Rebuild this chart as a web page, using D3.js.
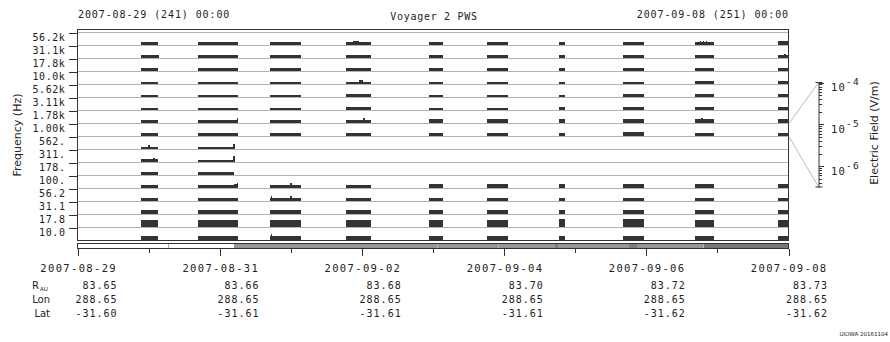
<!DOCTYPE html>
<html><head><meta charset="utf-8">
<script src="https://cdn.jsdelivr.net/npm/d3@7"></script>
<style>
html,body{margin:0;padding:0;background:#fff;}
svg{display:block;}
text{fill:#222;}
.mono{font-family:"DejaVu Sans Mono",monospace;}
.sans{font-family:"DejaVu Sans",sans-serif;}
</style></head><body>
<svg id="chart" width="890" height="342"></svg>
<script>
// ---------- DATA ----------
const channels = ["56.2k","31.1k","17.8k","10.0k","5.62k","3.11k","1.78k","1.00k","562.","311.","178.","100.","56.2","31.1","17.8","10.0"];

const blockStarts = ["2007-08-29T21:20","2007-08-30T16:30","2007-08-31T04:35","2007-08-31T16:50","2007-09-01T18:30","2007-09-02T22:30","2007-09-03T18:05","2007-09-04T18:25","2007-09-05T16:00","2007-09-06T16:20","2007-09-07T20:20"];
const blockEnds   = ["2007-08-30T03:00","2007-08-31T04:35","2007-08-31T06:00","2007-09-01T03:20","2007-09-02T02:55","2007-09-03T03:10","2007-09-04T01:05","2007-09-04T20:25","2007-09-05T23:05","2007-09-06T22:40","2007-09-08T00:00"];

// electric field (V/m) per block, per channel (top channel first); null = no data
const fieldB1  = [1.36e-6,1.36e-6,1.63e-6,1.04e-6,1.04e-6,1.19e-6,1.36e-6,1.63e-6,1.10e-6,1.70e-6,1.40e-6,1.36e-6,1.63e-6,2.10e-6,9.6e-6,1.86e-6];
const fieldB2a = [1.36e-6,1.36e-6,1.63e-6,1.04e-6,1.04e-6,1.19e-6,1.36e-6,1.63e-6,1.04e-6,1.19e-6,1.60e-6,1.36e-6,1.63e-6,2.10e-6,9.6e-6,1.86e-6];
const fieldB2b = [1.36e-6,1.36e-6,1.63e-6,1.04e-6,1.04e-6,1.19e-6,1.60e-6,1.63e-6,null,null,null,1.90e-6,1.63e-6,2.10e-6,9.6e-6,1.86e-6];
const fieldB3  = [1.36e-6,1.36e-6,1.63e-6,1.04e-6,1.04e-6,1.19e-6,1.70e-6,1.63e-6,null,null,null,1.70e-6,1.63e-6,2.10e-6,9.6e-6,1.90e-6];
const fieldB4  = [1.50e-6,1.36e-6,1.63e-6,1.10e-6,1.20e-6,1.36e-6,1.80e-6,1.63e-6,null,null,null,1.80e-6,1.63e-6,2.10e-6,9.6e-6,1.86e-6];
const fieldB5  = [1.36e-6,1.36e-6,1.63e-6,1.04e-6,1.04e-6,1.19e-6,1.90e-6,1.63e-6,null,null,null,2.00e-6,1.63e-6,2.10e-6,9.6e-6,1.86e-6];
const fieldB6  = [1.36e-6,1.36e-6,1.63e-6,1.04e-6,1.04e-6,1.19e-6,2.20e-6,1.63e-6,null,null,null,2.00e-6,1.63e-6,2.30e-6,9.6e-6,1.86e-6];
const fieldB7  = [1.36e-6,1.36e-6,1.63e-6,1.04e-6,1.04e-6,1.36e-6,2.40e-6,1.63e-6,null,null,null,2.00e-6,1.63e-6,2.60e-6,1.3e-5,1.86e-6];
const fieldB8  = [1.36e-6,1.36e-6,1.63e-6,1.04e-6,1.36e-6,1.36e-6,2.20e-6,1.90e-6,null,null,null,2.20e-6,1.63e-6,2.30e-6,1.2e-5,1.86e-6];
const fieldB9  = [1.60e-6,1.50e-6,1.70e-6,1.30e-6,1.30e-6,1.40e-6,2.40e-6,1.63e-6,null,null,null,2.00e-6,1.63e-6,2.30e-6,9.6e-6,1.86e-6];
const fieldB10 = [1.90e-6,1.70e-6,1.63e-6,1.30e-6,1.20e-6,1.36e-6,2.00e-6,1.63e-6,null,null,null,2.00e-6,1.63e-6,2.30e-6,9.6e-6,1.86e-6];
const blockFields = [fieldB1,fieldB2a,fieldB2b,fieldB3,fieldB4,fieldB5,fieldB6,fieldB7,fieldB8,fieldB9,fieldB10];

// isolated samples sticking out above the bars
const spikeTimes    = ["2007-08-29T23:40","2007-08-30T01:30","2007-08-30T02:50","2007-08-31T04:30","2007-08-31T04:30","2007-08-31T05:40","2007-08-31T05:40","2007-08-31T17:10","2007-08-31T23:40","2007-08-31T23:40","2007-08-31T17:10","2007-09-01T21:00","2007-09-01T21:40","2007-09-01T22:20","2007-09-01T23:00","2007-09-01T23:40","2007-09-02T00:20","2007-09-06T18:00","2007-09-06T19:00","2007-09-06T20:00","2007-09-06T18:30","2007-09-07T21:00","2007-09-07T22:30"];
const spikeChannels = [8,9,1,8,9,6,11,12,11,12,15,0,0,0,3,3,6,0,0,0,6,0,1];
const spikeValues   = [2.6e-6,2.6e-6,1.8e-6,3.6e-6,5.0e-6,3.4e-6,3.0e-6,4.0e-6,4.0e-6,4.0e-6,5.0e-6,2.2e-6,2.4e-6,2.2e-6,2.0e-6,2.0e-6,3.0e-6,2.4e-6,2.6e-6,2.4e-6,3.4e-6,2.6e-6,2.6e-6];

// coverage strip below the plot
const stripStarts = ["2007-08-29T00:00","2007-08-30T06:30","2007-08-31T04:35","2007-09-03T01:10","2007-09-03T21:50","2007-09-04T17:15","2007-09-04T18:15","2007-09-05T18:15","2007-09-05T20:40","2007-09-06T19:10"];
const stripEnds   = ["2007-08-30T06:30","2007-08-31T04:35","2007-09-03T01:10","2007-09-03T21:50","2007-09-04T17:15","2007-09-04T18:15","2007-09-05T18:15","2007-09-05T20:40","2007-09-06T19:10","2007-09-08T00:00"];
const stripKinds  = [0,0,1,1,1,2,1,2,1,3];

// ephemeris table
const ephemDates = ["2007-08-29","2007-08-31","2007-09-02","2007-09-04","2007-09-06","2007-09-08"];
const ephemR     = ["83.65","83.66","83.68","83.70","83.72","83.73"];
const ephemLon   = ["288.65","288.65","288.65","288.65","288.65","288.65"];
const ephemLat   = ["-31.60","-31.61","-31.61","-31.61","-31.62","-31.62"];

const fieldDecades = [1e-4,1e-5,1e-6];
const fieldExponents = ["-4","-5","-6"];

// ---------- DRAW ----------
const svg = d3.select("#chart");
const T = s => new Date(s + (s.length > 10 ? ":00Z" : "T00:00:00Z"));

const x = d3.scaleUtc().domain([T("2007-08-29"), T("2007-09-08")]).range([78, 788.5]);
const y = d3.scalePoint().domain(channels).range([32.5, 227.5]);
const step = y.step();
const inBand = d3.scaleLog().domain([Math.pow(10,-6.5), 1e-4]).range([step, 0]);

// grid lines
const gridYs = channels.map(c => y(c)).concat([y(channels[channels.length-1]) + step]);
svg.append("g").selectAll("line").data(gridYs).join("line")
  .attr("x1", 77.5).attr("x2", 788.5).attr("y1", d => d).attr("y2", d => d)
  .attr("stroke", "#b4b4b4").attr("shape-rendering","crispEdges");

// bars
const bars = [];
blockFields.forEach((arr, b) => arr.forEach((v, c) => {
  if (v != null) bars.push({s: T(blockStarts[b]), e: T(blockEnds[b]), c: channels[c], v});
}));
svg.append("g").selectAll("rect").data(bars).join("rect")
  .attr("x", d => x(d.s)).attr("width", d => Math.max(1, x(d.e) - x(d.s)))
  .attr("y", d => y(d.c) + inBand(d.v))
  .attr("height", d => step - 0.5 - inBand(d.v))
  .attr("fill", "#333").attr("shape-rendering","crispEdges");

const spikes = spikeTimes.map((t, i) => ({t: T(t), c: channels[spikeChannels[i]], v: spikeValues[i]}));
svg.append("g").selectAll("rect").data(spikes).join("rect")
  .attr("x", d => x(d.t)).attr("width", 1.5)
  .attr("y", d => y(d.c) + inBand(d.v))
  .attr("height", d => step - 0.5 - inBand(d.v))
  .attr("fill", "#333").attr("shape-rendering","crispEdges");

// frame
svg.append("rect").attr("x", 77.5).attr("y", 29.5).attr("width", 711).attr("height", 211)
  .attr("fill","none").attr("stroke","#333").attr("shape-rendering","crispEdges");

// left axis
const yAxis = d3.axisLeft(y).tickSize(9).tickPadding(3).tickSizeOuter(0);
const gy = svg.append("g").attr("transform","translate(77.5,0)").call(yAxis);
gy.select(".domain").remove();
gy.selectAll(".tick line").attr("stroke","#333").attr("shape-rendering","crispEdges");
gy.selectAll(".tick text").attr("class","mono").attr("font-size",10).attr("letter-spacing",0.6)
  .attr("fill","#222").attr("x", -12).attr("dy","0.78em");

svg.append("text").attr("class","sans").attr("font-size",11)
  .attr("transform","translate(21,135) rotate(-90)").attr("text-anchor","middle")
  .text("Frequency (Hz)");

// coverage strip
const stripColors = ["#ffffff","#959595","#7c7c7c","#777777"];
const strip = stripStarts.map((s, i) => ({s: T(s), e: T(stripEnds[i]), k: stripKinds[i]}));
const gs = svg.append("g");
gs.selectAll("rect").data(strip).join("rect")
  .attr("x", d => x(d.s)).attr("width", d => x(d.e) - x(d.s))
  .attr("y", 243.5).attr("height", 5).attr("fill", d => stripColors[d.k])
  .attr("shape-rendering","crispEdges");
gs.selectAll("line").data(strip.slice(1).filter((d,i) => d.k === strip[i].k || d.k === 3)).join("line")
  .attr("x1", d => Math.round(x(d.s)) + 0.5).attr("x2", d => Math.round(x(d.s)) + 0.5)
  .attr("y1", 244).attr("y2", 248)
  .attr("stroke", d => d.k === 0 ? "#aaaaaa" : "#b8b8b8");
gs.append("rect").attr("x", 77.5).attr("y", 243.5).attr("width", 711).attr("height", 5)
  .attr("fill","none").attr("stroke","#333").attr("shape-rendering","crispEdges");

// time axis
const days = d3.utcDay.range(T("2007-08-29"), d3.utcDay.offset(T("2007-09-08"), 1));
svg.append("g").selectAll("line").data(days).join("line")
  .attr("x1", d => Math.round(x(d)) + 0.5).attr("x2", d => Math.round(x(d)) + 0.5)
  .attr("y1", 248.5).attr("y2", (d, i) => i % 2 === 0 ? 256 : 253)
  .attr("stroke","#333").attr("shape-rendering","crispEdges");

// ephemeris table
const gt = svg.append("g");
gt.selectAll("text.date").data(ephemDates).join("text").attr("class","mono date")
  .attr("x", d => x(T(d)) + 0.7).attr("y", 272).attr("text-anchor","middle")
  .attr("font-size",10.5).attr("letter-spacing",1.35).text(d => d);
[[ephemR, 288.5],[ephemLon, 302.5],[ephemLat, 316.5]].forEach(([arr, yy]) => {
  gt.append("g").selectAll("text").data(arr).join("text").attr("class","mono")
    .attr("x", (d, i) => x(T(ephemDates[i])) + 39.5).attr("y", yy).attr("text-anchor","end")
    .attr("font-size",10).attr("letter-spacing",1.0).text(d => d);
});
const rl = gt.append("text").attr("class","sans").attr("font-size",10).attr("x",32).attr("y",288.5);
rl.append("tspan").text("R");
rl.append("tspan").attr("font-size",5.5).attr("dy",2).attr("dx",1).text("AU");
gt.append("text").attr("class","sans").attr("font-size",10).attr("x",50).attr("y",302.5).attr("text-anchor","end").text("Lon");
gt.append("text").attr("class","sans").attr("font-size",10).attr("x",50).attr("y",316.5).attr("text-anchor","end").text("Lat");

// titles
svg.append("text").attr("class","mono").attr("font-size",10).attr("letter-spacing",0.9)
  .attr("x", 78).attr("y", 17.5).text("2007-08-29 (241) 00:00");
svg.append("text").attr("class","mono").attr("font-size",10).attr("letter-spacing",0.9)
  .attr("x", 789).attr("y", 17.5).attr("text-anchor","end").text("2007-09-08 (251) 00:00");
svg.append("text").attr("class","mono").attr("font-size",10).attr("letter-spacing",0.7)
  .attr("x", 434).attr("y", 20).attr("text-anchor","middle").text("Voyager 2 PWS");

// color bar (electric field scale for one channel band)
const cb = d3.scaleLog().domain([Math.pow(10,-6.5), 1e-4]).range([187, 82.5]);
const refCh = channels[7];
svg.append("g").selectAll("line").data([[y(refCh), cb.range()[1]],[y(refCh)+step, cb.range()[0]]]).join("line")
  .attr("x1", 789).attr("x2", 818.5).attr("y1", d => d[0]).attr("y2", d => d[1])
  .attr("stroke","#bbbbbb");
const cbAxis = d3.axisRight(cb).tickValues(cb.ticks()).tickSize(3).tickSizeOuter(0).tickFormat("");
const gcb = svg.append("g").attr("transform","translate(818.5,0)").call(cbAxis);
gcb.select(".domain").attr("stroke","#333");
gcb.selectAll(".tick line").attr("stroke","#333").attr("shape-rendering","crispEdges")
  .attr("x2", d => fieldDecades.some(v => Math.abs(v - d) / v < 1e-6) ? 5 : 3);
gcb.append("line").attr("x1",-3).attr("x2",4).attr("y1",82.5).attr("y2",82.5).attr("stroke","#333");
gcb.append("line").attr("x1",-3).attr("x2",4).attr("y1",187).attr("y2",187).attr("stroke","#333");
const lab = svg.append("g").selectAll("text").data(fieldDecades).join("text")
  .attr("class","mono").attr("font-size",10.5).attr("letter-spacing",1.2)
  .attr("x", 831).attr("y", d => cb(d) + 8.5);
lab.append("tspan").text("10");
lab.append("tspan").attr("font-size",9.5).attr("dy",-6).text((d, i) => fieldExponents[i]);

svg.append("text").attr("class","sans").attr("font-size",11)
  .attr("transform","translate(878,133) rotate(-90)").attr("text-anchor","middle")
  .text("Electric Field (V/m)");

// footer
svg.append("text").attr("class","sans").attr("font-size",5.5).attr("fill","#777")
  .attr("x", 888).attr("y", 336).attr("text-anchor","end").text("UIOWA 20161104");
</script>
</body></html>
